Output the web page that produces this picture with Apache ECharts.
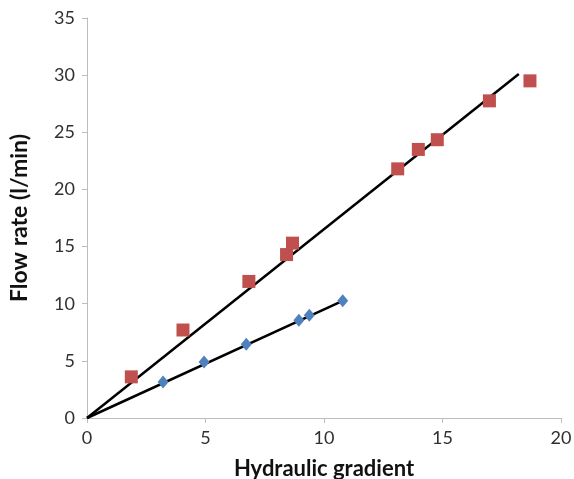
<!DOCTYPE html>
<html lang="en" style="height: 100%">
<head>
  <meta charset="utf-8">
  <script type="text/javascript" src="https://cdn.jsdelivr.net/npm/echarts@6/dist/echarts.min.js"></script>
</head>
<body style="height: 100%; margin: 0; background: #fff">
  <div id="container" style="width: 574px; height: 479px"></div>
  <script type="text/javascript">
    // red squares (upper series)
    var redPoints = [
      [1.87, 3.6], [4.05, 7.7], [6.83, 11.95], [8.42, 14.3], [8.67, 15.3],
      [13.11, 21.8], [13.98, 23.5], [14.78, 24.35], [16.98, 27.75], [18.69, 29.5]
    ];
    // blue diamonds (lower series)
    var bluePoints = [
      [3.21, 3.15], [4.94, 4.9], [6.72, 6.45], [8.94, 8.55], [9.38, 9.0], [10.79, 10.25]
    ];
    // trend lines through the origin
    var redTrend = [[0, 0], [18.22, 30.1]];
    var blueTrend = [[0, 0], [10.81, 10.27]];

    var dom = document.getElementById('container');
    var myChart = echarts.init(dom, null, { renderer: 'canvas' });
    var font = 'Lato, "Open Sans", sans-serif';
    var axisLine = { show: true, lineStyle: { color: '#bdbdbd', width: 1 } };
    var axisTick = { show: true, length: 5, lineStyle: { color: '#bdbdbd' } };
    var axisLabel = { color: '#303030', fontSize: 18, fontFamily: font };

    var option = {
      animation: false,
      backgroundColor: '#fff',
      grid: { left: 87, right: 13, top: 18, bottom: 61, outerBoundsMode: 'none', containLabel: false },
      xAxis: {
        type: 'value',
        min: 0, max: 20, interval: 5,
        splitLine: { show: false },
        axisLine: axisLine, axisTick: axisTick,
        axisLabel: Object.assign({ margin: 11 }, axisLabel),
        name: 'Hydraulic gradient',
        nameLocation: 'middle',
        nameGap: 40,
        nameTextStyle: { color: '#111', fontSize: 22, fontWeight: 'bold', fontFamily: font }
      },
      yAxis: {
        type: 'value',
        min: 0, max: 35, interval: 5,
        splitLine: { show: false },
        axisLine: axisLine, axisTick: axisTick,
        axisLabel: Object.assign({ margin: 12 }, axisLabel),
        name: 'Flow rate (l/min)',
        nameLocation: 'middle',
        nameGap: 56,
        nameRotate: 90,
        nameTextStyle: { color: '#111', fontSize: 23, fontWeight: 'bold', fontFamily: font }
      },
      series: [
        {
          type: 'line', data: redTrend, symbol: 'none',
          lineStyle: { color: '#000', width: 2.5 }, z: 2
        },
        {
          type: 'line', data: blueTrend, symbol: 'none',
          lineStyle: { color: '#000', width: 2.5 }, z: 2
        },
        {
          type: 'scatter', data: redPoints, symbol: 'rect', symbolSize: 13,
          itemStyle: { color: '#c0504d', opacity: 1 }, z: 3
        },
        {
          type: 'scatter', data: bluePoints, symbol: 'diamond', symbolSize: [11, 13],
          itemStyle: { color: '#4f81bd', opacity: 1 }, z: 3
        }
      ]
    };
    myChart.setOption(option);
  </script>
</body>
</html>
